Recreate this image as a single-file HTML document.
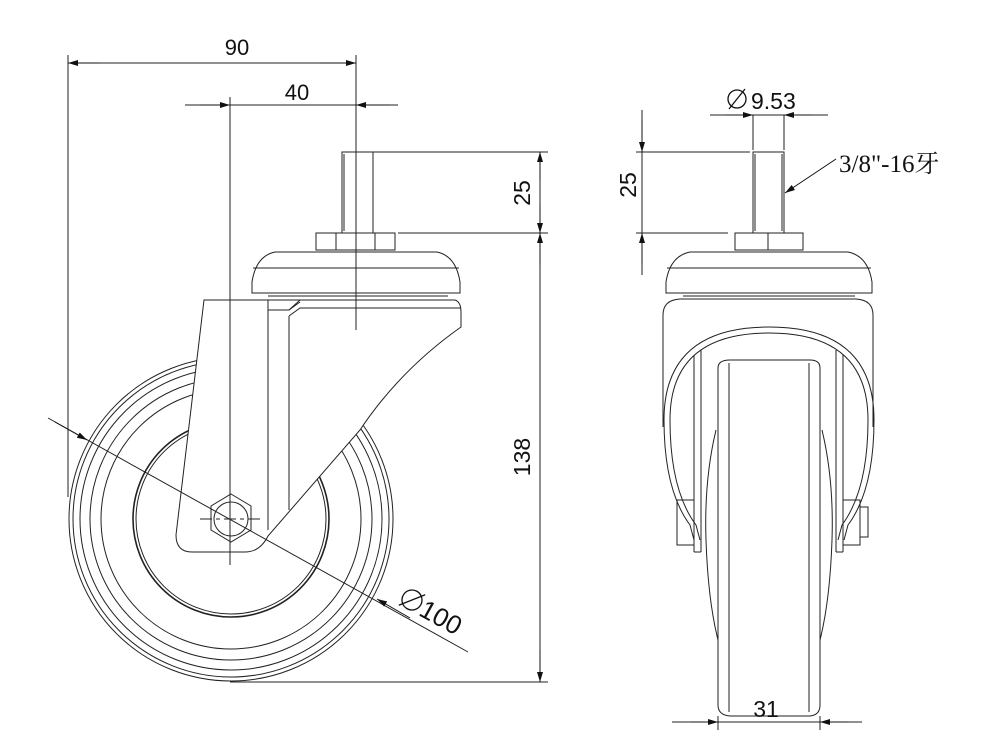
<!DOCTYPE html>
<html><head><style>
html,body{margin:0;padding:0;background:#fff;}
svg{display:block;}
text{font-family:"Liberation Sans","DejaVu Sans",sans-serif;fill:#111;}
</style></head><body>
<svg width="981" height="752" viewBox="0 0 981 752" xmlns="http://www.w3.org/2000/svg">
<defs>
<marker id="a" viewBox="0 0 10 6" refX="10" refY="3" markerWidth="16" markerHeight="6" markerUnits="userSpaceOnUse" orient="auto"><path d="M0,0 L10,3 L0,6 Z" fill="#111"/></marker>
</defs>
<g fill="none" stroke="#222" stroke-width="1">
<circle cx="231" cy="519" r="162"/>
<circle cx="231" cy="519" r="158"/>
<circle cx="231" cy="519" r="151"/>
<circle cx="231" cy="519" r="141"/>
<circle cx="231" cy="519" r="130"/>
<circle cx="231" cy="519" r="98" stroke-width="1.6"/>
<circle cx="231" cy="519" r="95"/>
</g>
<path d="M204,300 L268,300 L268,310 L289,310 L300,300 L455,300 Q461,302 461,312 L461,327 Q400,370 360,430 L268,536 Q260,552 245,552 L192,552 Q176,552 176,535 L204,300 Z" fill="#fff" stroke="#222" stroke-width="1"/>
<g fill="none" stroke="#222" stroke-width="1">
<line x1="268" y1="310" x2="268" y2="530"/>
<line x1="289" y1="316" x2="289" y2="510"/>
<line x1="289" y1="310" x2="300" y2="302"/>
<path d="M289,316 L300,308 L461,308"/>
<line x1="255" y1="300" x2="455" y2="300"/>
<path d="M252,293 L252,282 Q256,256 275,252 L437,252 Q456,256 460,282 L460,293 Z" fill="#fff"/>
<line x1="253" y1="268" x2="459" y2="268"/>
<line x1="268" y1="296" x2="448" y2="296"/>
<rect x="316" y="233" width="79" height="17" fill="#fff"/>
<line x1="336" y1="233" x2="336" y2="250"/>
<line x1="375" y1="233" x2="375" y2="250"/>
<rect x="342" y="152" width="31" height="81" fill="#fff"/>
<line x1="344" y1="154" x2="344" y2="231"/>
<polygon points="231,494 251,506 251,530 231,542 211,530 211,506" fill="#fff"/>
<circle cx="231" cy="519" r="17"/>
<line x1="200" y1="519" x2="262" y2="519" stroke-dasharray="12,4,4,4"/>
<line x1="230" y1="97" x2="230" y2="565"/>
<line x1="356" y1="55" x2="356" y2="330"/>
<line x1="68" y1="55" x2="68" y2="497"/>
<line x1="68" y1="63" x2="356" y2="63"/>
<line x1="185" y1="105" x2="398" y2="105"/>
<line x1="372" y1="152" x2="548" y2="152"/>
<line x1="398" y1="233" x2="548" y2="233"/>
<line x1="230" y1="682" x2="548" y2="682"/>
<line x1="540" y1="152" x2="540" y2="682"/>
<line x1="48" y1="418" x2="468" y2="652"/>
</g>
<g stroke="#111" stroke-width="1" fill="none">
<line x1="100" y1="63" x2="68" y2="63" marker-end="url(#a)"/>
<line x1="320" y1="63" x2="356" y2="63" marker-end="url(#a)"/>
<line x1="200" y1="105" x2="230" y2="105" marker-end="url(#a)"/>
<line x1="390" y1="105" x2="356" y2="105" marker-end="url(#a)"/>
<line x1="540" y1="180" x2="540" y2="152" marker-end="url(#a)"/>
<line x1="540" y1="205" x2="540" y2="233" marker-end="url(#a)"/>
<line x1="540" y1="265" x2="540" y2="233" marker-end="url(#a)"/>
<line x1="540" y1="650" x2="540" y2="682" marker-end="url(#a)"/>
<line x1="55" y1="422" x2="87" y2="440" marker-end="url(#a)"/>
<line x1="410" y1="618" x2="377" y2="599" marker-end="url(#a)"/>
</g>
<text x="237" y="55" font-size="22" text-anchor="middle">90</text>
<text x="297" y="100" font-size="22" text-anchor="middle">40</text>
<text transform="translate(530,193) rotate(-90)" font-size="23" text-anchor="middle">25</text>
<text transform="translate(530,457) rotate(-90)" font-size="23" text-anchor="middle">138</text>
<g transform="translate(412,600) rotate(29)">
<circle cx="0" cy="0" r="10" fill="none" stroke="#111" stroke-width="1.3"/>
<line x1="-9" y1="11" x2="9" y2="-11" stroke="#111" stroke-width="1.3"/>
<text x="12" y="10" font-size="26">100</text>
</g>

<g fill="none" stroke="#222" stroke-width="1">
<path d="M663,427 L663,315 Q663,300 680,299 L856,299 Q873,300 873,315 L873,427"/>
<path d="M718,368 Q718,360 730,360 L810,360 Q820,360 820,368"/>
<path d="M718,368 L718,705 Q718,715 730,716 L810,716 Q820,715 820,705 L820,368"/>
<line x1="729" y1="363" x2="729" y2="712"/>
<line x1="809" y1="363" x2="809" y2="712"/>
<path d="M716,430 Q704,480 706,540 Q708,600 718,640"/>
<path d="M822,430 Q834,480 832,540 Q830,600 820,640"/>
<path d="M694,540 L690,525 Q664,490 664,420 Q664,327 769,327 Q874,327 874,420 Q874,490 848,525 L844,540"/>
<path d="M700,540 L696,525 Q670,490 670,420 Q670,333 769,333 Q868,333 868,420 Q868,490 842,525 L838,540"/>
<line x1="694" y1="355" x2="694" y2="552"/>
<line x1="701" y1="350" x2="701" y2="552"/>
<line x1="694" y1="552" x2="701" y2="552"/>
<line x1="836" y1="350" x2="836" y2="552"/>
<line x1="843" y1="355" x2="843" y2="552"/>
<line x1="836" y1="552" x2="843" y2="552"/>
<rect x="677" y="500" width="17" height="45"/>
<rect x="843" y="500" width="17" height="45"/>
<rect x="860" y="507" width="8" height="30"/>
<path d="M666,293 L666,282 Q670,256 690,252 L848,252 Q868,256 872,282 L872,293 Z" fill="#fff"/>
<line x1="667" y1="268" x2="871" y2="268"/>
<line x1="683" y1="296" x2="855" y2="296"/>
<rect x="735" y="233" width="68" height="17" fill="#fff"/>
<line x1="768" y1="233" x2="768" y2="250"/>
<rect x="753" y="152" width="31" height="81" fill="#fff"/>
<line x1="755" y1="154" x2="755" y2="231"/>
<line x1="782" y1="154" x2="782" y2="231"/>
<line x1="636" y1="152" x2="750" y2="152"/>
<line x1="636" y1="233" x2="728" y2="233"/>
<line x1="642" y1="110" x2="642" y2="275"/>
<line x1="710" y1="115" x2="828" y2="115"/>
<line x1="753" y1="115" x2="753" y2="150"/>
<line x1="784" y1="115" x2="784" y2="150"/>
<line x1="672" y1="722" x2="862" y2="722"/>
<line x1="718" y1="716" x2="718" y2="730"/>
<line x1="820" y1="716" x2="820" y2="730"/>
</g>
<g stroke="#111" stroke-width="1" fill="none">
<line x1="642" y1="120" x2="642" y2="152" marker-end="url(#a)"/>
<line x1="642" y1="265" x2="642" y2="233" marker-end="url(#a)"/>
<line x1="725" y1="115" x2="753" y2="115" marker-end="url(#a)"/>
<line x1="812" y1="115" x2="784" y2="115" marker-end="url(#a)"/>
<line x1="690" y1="722" x2="718" y2="722" marker-end="url(#a)"/>
<line x1="848" y1="722" x2="820" y2="722" marker-end="url(#a)"/>
<line x1="836" y1="159" x2="785" y2="193" marker-end="url(#a)"/>
</g>
<circle cx="737" cy="99" r="9" fill="none" stroke="#111" stroke-width="1.3"/>
<line x1="729" y1="109" x2="745" y2="89" stroke="#111" stroke-width="1.3"/>
<text x="751" y="109" font-size="23">9.53</text>
<text transform="translate(636,185) rotate(-90)" font-size="23" text-anchor="middle">25</text>
<text x="766" y="717" font-size="23" text-anchor="middle">31</text>
<text x="839" y="172" font-size="25" style='font-family:"Liberation Serif","Noto Serif CJK SC",serif'>3/8"-16牙</text>
</svg>
</body></html>
